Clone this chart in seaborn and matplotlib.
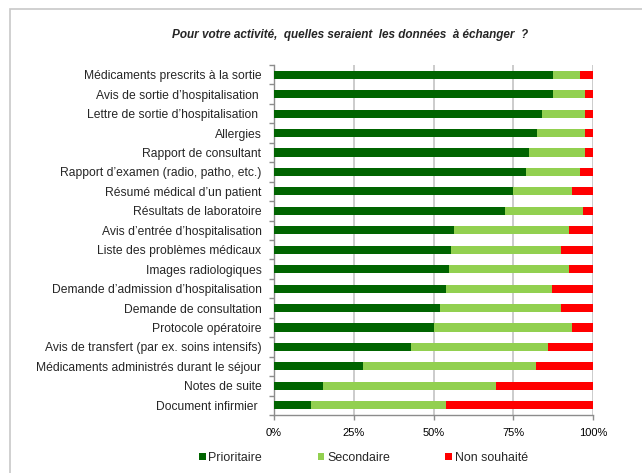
import numpy as np
import pandas as pd
import matplotlib
matplotlib.use("Agg")
import matplotlib.pyplot as plt
import seaborn as sns
from matplotlib.patches import Patch, Rectangle
from matplotlib.ticker import FixedLocator, PercentFormatter

# --- Data ---
categories = [
    "Médicaments prescrits à la sortie",
    "Avis de sortie d’hospitalisation ",
    "Lettre de sortie d’hospitalisation ",
    "Allergies",
    "Rapport de consultant",
    "Rapport d’examen (radio, patho, etc.)",
    "Résumé médical d’un patient",
    "Résultats de laboratoire",
    "Avis d’entrée d’hospitalisation",
    "Liste des problèmes médicaux",
    "Images radiologiques",
    "Demande d’admission d’hospitalisation",
    "Demande de consultation",
    "Protocole opératoire",
    "Avis de transfert (par ex. soins intensifs)",
    "Médicaments administrés durant le séjour",
    "Notes de suite",
    "Document infirmier ",
]
prioritaire = [87.5, 87.5, 84, 82.5, 80, 79, 75, 72.5, 56.5, 55.5, 55, 54, 52, 50, 43, 28, 15.5, 11.5]
secondaire = [8.5, 10, 13.5, 15, 17.5, 17, 18.5, 24.5, 36, 34.5, 37.5, 33, 38, 43.5, 43, 54, 54, 42.5]
non_souhaite = [4, 2.5, 2.5, 2.5, 2.5, 4, 6.5, 3, 7.5, 10, 7.5, 13, 10, 6.5, 14, 18, 30.5, 46]
series_names = ["Prioritaire", "Secondaire", "Non souhaité"]
colors = ["#006400", "#92D050", "#FF0000"]

df = pd.DataFrame({
    "categorie": categories,
    "Prioritaire": prioritaire,
    "Secondaire": secondaire,
    "Non souhaité": non_souhaite,
})
# cumulative ends for stacking
df["c1"] = df["Prioritaire"]
df["c2"] = df["c1"] + df["Secondaire"]
df["c3"] = df["c2"] + df["Non souhaité"]

sns.set_style("white")
plt.rcParams["font.family"] = ["Liberation Sans", "DejaVu Sans"]

fig = plt.figure(figsize=(6.42, 4.73), dpi=100)
ax = fig.add_axes([274 / 642, 1 - 415 / 473, 319 / 642, 350 / 473])

bar_w = 0.42
for col, c in zip(["c3", "c2", "c1"], colors[::-1]):
    sns.barplot(data=df, x=col, y="categorie", orient="h", color=c,
                width=bar_w, saturation=1, linewidth=0, ax=ax, zorder=3)

ax.set_xlim(0, 100)
ax.set_ylim(len(categories) - 0.5, -0.5)
ax.set_xlabel("")
ax.set_ylabel("")
ax.xaxis.set_major_locator(FixedLocator([0, 25, 50, 75, 100]))
ax.xaxis.set_major_formatter(PercentFormatter(decimals=0))
ax.grid(axis="x", color="#c4c4c4", linewidth=1.2, zorder=0)
ax.set_axisbelow(True)

for side in ["top", "right"]:
    ax.spines[side].set_visible(False)
for side in ["left", "bottom"]:
    ax.spines[side].set_color("#8c8c8c")
    ax.spines[side].set_linewidth(1)

ax.tick_params(axis="x", length=3.5, width=1, color="#8c8c8c", pad=6,
               labelsize=8, labelcolor="black", direction="out", bottom=True)
ax.tick_params(axis="y", which="major", length=0, pad=9, labelsize=8.7)
ax.yaxis.set_minor_locator(FixedLocator(np.arange(-0.5, len(categories), 1)))
ax.tick_params(axis="y", which="minor", length=3.5, width=1, color="#8c8c8c",
               direction="out", left=True)

fig.text(350 / 642, 1 - 35 / 473,
         "Pour votre activité,  quelles seraient  les données  à échanger  ?",
         ha="center", va="center", fontsize=8.5, fontstyle="italic", fontweight="bold")

handles = [Patch(facecolor=c, edgecolor="none") for c in colors]
fig.legend(handles, series_names, loc="center left",
           bbox_to_anchor=(199 / 642, 1 - 458 / 473), ncol=3, frameon=False,
           fontsize=8.9, handlelength=0.55, handleheight=0.55, handletextpad=0.2,
           columnspacing=4.5, borderpad=0, borderaxespad=0)

# chart area border (cropped at right and bottom)
fig.patches.append(Rectangle((10 / 642, -0.2), 1.5, 1.2 - 9 / 473,
                             transform=fig.transFigure, fill=False,
                             edgecolor="#c8c8c8", linewidth=1.2))

plt.savefig("out.png", dpi=100)
plt.close()
